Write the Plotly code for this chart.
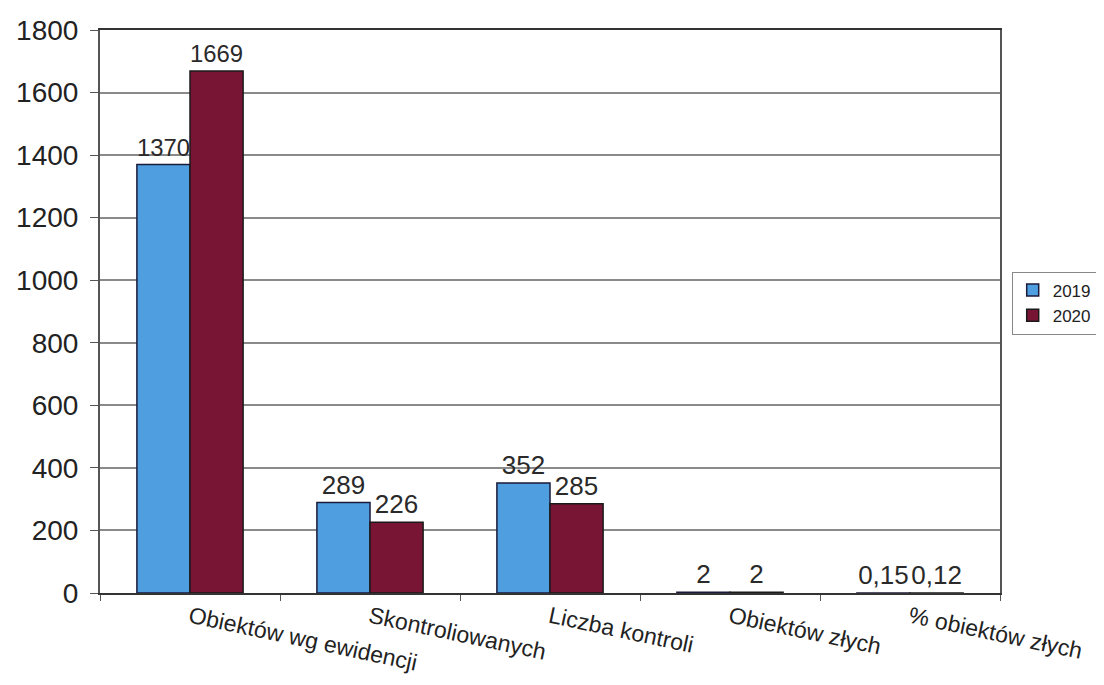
import plotly.graph_objects as go

categories = ["Obiektów wg ewidencji", "Skontroliowanych", "Liczba kontroli",
              "Obiektów złych", "% obiektów złych"]
values_2019 = [1370, 289, 352, 2, 0.15]
values_2020 = [1669, 226, 285, 2, 0.12]
y_ticks = [0, 200, 400, 600, 800, 1000, 1200, 1400, 1600, 1800]


def lbl(vals):
    return [f"{v:g}".replace(".", ",") for v in vals]


fig = go.Figure()
fig.add_trace(go.Bar(
    name="2019", x=categories, y=values_2019, text=lbl(values_2019),
    textposition="outside", cliponaxis=False,
    textfont=dict(size=26, color="#2a2a2a"),
    marker=dict(color="#4f9fe0", line=dict(color="#1a1a3a", width=1.5)),
))
fig.add_trace(go.Bar(
    name="2020", x=categories, y=values_2020, text=lbl(values_2020),
    textposition="outside", cliponaxis=False,
    textfont=dict(size=26, color="#2a2a2a"),
    marker=dict(color="#781535", line=dict(color="#1a1a1a", width=1.5)),
))

# page body adds an 8px offset, so the figure is 8px smaller and margins shifted
fig.update_layout(
    width=1096, height=677,
    margin=dict(l=92, r=104, t=22, b=92, autoexpand=False),
    paper_bgcolor="white", plot_bgcolor="white",
    font=dict(family="Liberation Sans, Arial, sans-serif", color="#222"),
    barmode="group", bargap=0.41, bargroupgap=0,
    uniformtext=dict(mode=False),
    legend=dict(x=1.013, y=0.515, xanchor="left", yanchor="middle",
                bordercolor="#888", borderwidth=1,
                font=dict(size=17, color="#222"),
                itemwidth=30, tracegroupgap=4),
    showlegend=True,
)
fig.update_yaxes(
    range=[0, 1800], tickvals=y_ticks, showgrid=True, gridcolor="#8a8a8a",
    gridwidth=1.5, showline=True, linecolor="#555", linewidth=2,
    ticks="outside", ticklen=8, tickcolor="#555", ticklabelstandoff=6,
    tickfont=dict(size=28, color="#222"), mirror=True, zeroline=False,
    automargin=False,
)
fig.update_xaxes(
    showline=True, linecolor="#333", linewidth=2, mirror=True,
    ticks="outside", tickson="boundaries", ticklen=6, tickcolor="#555",
    tickangle=12, tickfont=dict(size=23, color="#222"), automargin=False,
)

fig.write_html("out.html")
